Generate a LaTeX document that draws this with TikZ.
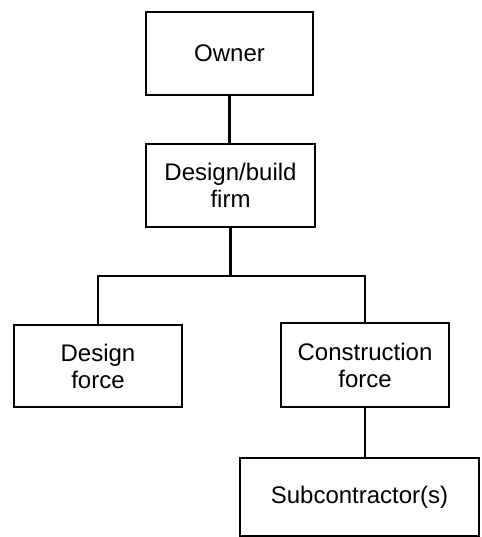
\documentclass[tikz,border=0pt]{standalone}
\usepackage{fontspec}
\setmainfont{Liberation Sans}
\usetikzlibrary{positioning}
\tikzstyle{box}=[draw=black, line width=1.5pt, rectangle, align=center, inner sep=0pt, font=\fontsize{24}{27}\selectfont]
\tikzstyle{link}=[draw=black, line width=2.6pt]

\begin{document}
\begin{tikzpicture}[x=1pt, y=-1pt]
    \useasboundingbox (0,0) rectangle (481,537);

    % Top of the chart
    \node[box, minimum width=167pt, minimum height=83pt] (owner) at (229.5,53.5) {Owner};
    \node[box, minimum width=169pt, minimum height=83pt] (firm) at (230.5,185.5) {Design/build\\firm};

    \draw[link] (owner.south) -- (owner.south |- firm.north);

    % The two forces under the firm
    \node[box, minimum width=168pt, minimum height=82pt] (dforce) at (98,366) {Design\\force};
    \node[box, minimum width=168pt, minimum height=84pt] (cforce) at (365,365) {Construction\\force};

    \coordinate (split) at (230.5,276);
    \draw[link] (firm.south) -- (split);
    \draw[link] (dforce.north) |- (split) -| (cforce.north);

    % Subcontractors under the construction force
    \node[box, minimum width=239pt, minimum height=78pt] (sub) at (359.5,497) {Subcontractor(s)};

    \draw[link] (cforce.south) -- (cforce.south |- sub.north);

\end{tikzpicture}
\end{document}
